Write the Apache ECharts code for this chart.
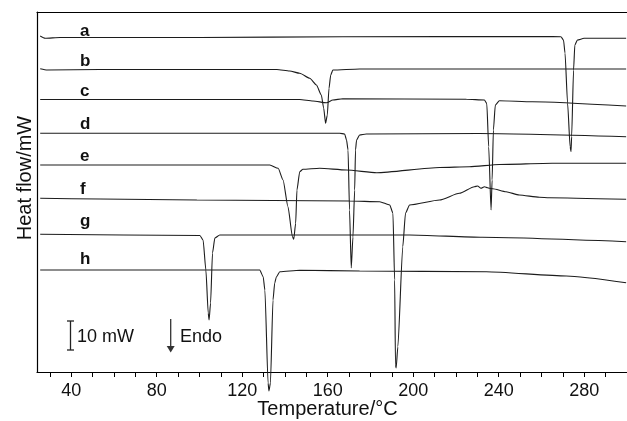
<!DOCTYPE html>
<html>
<head>
<meta charset="utf-8">
<script src="https://cdn.jsdelivr.net/npm/echarts@6.0.0/dist/echarts.min.js"></script>
<style>
  html, body { margin: 0; padding: 0; background: #fff; }
  #main { width: 627px; height: 421px; }
</style>
</head>
<body>
<div id="main"></div>
<script>
// DSC traces a-h: [temperature °C, heat flow (plot units, 29 units = 10 mW)]
const curveA = [[25.5,336],[27.8,333.7],[34.8,334.5],[100.2,334.5],[167,335.2],[261.3,335.5],[269.1,335.3],[270.3,332],[271,319],[272.2,269],[273.4,225.3],[273.8,220.3],[274.1,235.3],[275,302],[275.6,327],[276.8,332],[279.9,333.7],[299.6,333.7]];
const curveB = [[25.5,303.3],[28.8,302],[53.5,302.5],[136.2,302.5],[142.2,301],[146.9,298.7],[151.6,293.7],[154.7,287],[157,277],[158.1,264],[159,248.7],[159.8,257],[160.6,283.7],[161.4,297],[162.4,302],[174.9,303],[299.6,303]];
const curveC = [[25.5,272.5],[142.2,272.5],[146.9,272.5],[153.1,271],[159.4,269.2],[162.4,272],[167,273.3],[224.9,272.7],[233.3,272],[234.4,268.7],[235.3,225.3],[236.4,162],[236.9,192],[237.5,242],[238.4,267],[240.3,271.3],[255.7,270.3],[299.6,266]];
const curveD = [[25.5,238.7],[165.6,238.7],[167.9,238],[168.8,232],[169.5,222],[170.2,162],[171,104],[171.8,135],[172.6,182],[173,222],[173.5,232],[174.9,237],[178,238],[230.9,238.5],[299.6,235.3]];
const curveE = [[25.5,207],[129.6,207],[132.9,207],[136.8,203.7],[139.1,192],[141.4,165.3],[143.5,135.3],[144.1,132.7],[145,148.7],[145.6,182],[146.9,200.3],[148.4,202.7],[156.2,203.7],[168.7,202],[182.9,199.3],[212.3,204.5],[226.3,205.2],[240.3,207.5],[265,208.7],[299.6,208.7]];
const curveF = [[25.5,173.7],[53.5,173],[98.8,172],[170.2,171],[184.3,170.3],[189,167],[190.5,159],[191.3,92],[191.7,7],[192,4],[192.8,25.3],[195.1,125.3],[196.4,159],[198.3,167],[212.3,172],[221.6,178.7],[228.6,185.3],[230.1,186],[231.7,183.7],[233.3,185.3],[234.8,184.3],[235.6,183.7],[237.2,183.3],[243.4,180.3],[249.6,177],[259,174.7],[263.6,174.3],[299.6,172.7]];
const curveG = [[25.5,137.7],[100.2,136.5],[101.7,132],[103,102],[104.1,59],[104.5,52],[105.2,69],[106.1,119],[107.2,134],[109.5,137],[198.3,137],[232.3,134.7],[299.6,130.3]];
const curveH = [[25.5,102],[128.2,102],[129.8,95.3],[130.6,82],[132.1,-11],[132.5,-19],[133.2,-11],[134.4,72],[135.2,89],[136,95.3],[137.6,100.3],[146.9,101.7],[174.9,101],[234.2,100.3],[271.6,96],[299.6,89.3]];

const curveNames = ['a','b','c','d','e','f','g','h'];
const curves = [curveA, curveB, curveC, curveD, curveE, curveF, curveG, curveH];
const tickValues = [30,40,50,60,70,80,90,100,110,120,130,140,150,160,170,180,190,200,210,220,230,240,250,260,270,280,290];
const labelValues = [40,80,120,160,200,240,280];

const FONT = '"Liberation Sans", Arial, Helvetica, sans-serif';
const INK = '#1c1c1c';

// label centre y for each trace name (just above its baseline)
const nameY = [31, 61, 91, 124, 156, 189, 221, 259];

const chart = echarts.init(document.getElementById('main'));

const series = curves.map((c, i) => ({
  name: curveNames[i],
  type: 'line',
  data: c,
  showSymbol: false,
  smooth: 0.2,
  smoothMonotone: 'x',
  clip: false,
  silent: true,
  lineStyle: { color: INK, width: 1.1 }
}));

const graphics = curveNames.map((n, i) => ({
  type: 'text',
  x: 80, y: nameY[i],
  style: { text: n, font: 'bold 17px ' + FONT, fill: '#111', verticalAlign: 'middle' }
}));

graphics.push(
  {
    type: 'text', x: 25, y: 178, rotation: Math.PI / 2,
    style: { text: 'Heat flow/mW', font: '20px ' + FONT, fill: '#111', align: 'center', verticalAlign: 'middle' }
  },
  // 10 mW scale bar
  { type: 'line', shape: { x1: 70.5, y1: 321, x2: 70.5, y2: 350 }, style: { stroke: '#222', lineWidth: 1.3 } },
  { type: 'line', shape: { x1: 67, y1: 321, x2: 74, y2: 321 }, style: { stroke: '#222', lineWidth: 1.3 } },
  { type: 'line', shape: { x1: 67, y1: 350, x2: 74, y2: 350 }, style: { stroke: '#222', lineWidth: 1.3 } },
  { type: 'text', x: 77, y: 337.5, style: { text: '10 mW', font: '18px ' + FONT, fill: '#111', verticalAlign: 'middle' } },
  // Endo arrow
  { type: 'line', shape: { x1: 170.7, y1: 319, x2: 170.7, y2: 349 }, style: { stroke: '#333', lineWidth: 1.3 } },
  { type: 'polygon', shape: { points: [[166.7, 346], [174.7, 346], [170.7, 352.5]] }, style: { fill: '#333' } },
  { type: 'text', x: 180, y: 337.5, style: { text: 'Endo', font: '18px ' + FONT, fill: '#111', verticalAlign: 'middle' } }
);

chart.setOption({
  animation: false,
  backgroundColor: '#fff',
  grid: { left: 37, right: 0, top: 12, bottom: 49, outerBoundsMode: 'none', containLabel: false },
  xAxis: [
    {
      type: 'value', min: 24, max: 300, position: 'bottom',
      name: 'Temperature/°C', nameLocation: 'middle', nameGap: 27, nameMoveOverlap: false,
      nameTextStyle: { fontSize: 20, fontFamily: FONT, color: '#111', padding: [0, 9, 0, 0] },
      axisLine: { onZero: false, lineStyle: { color: '#000', width: 1.2 } },
      axisTick: { customValues: tickValues, length: 5, lineStyle: { color: '#000', width: 1 } },
      axisLabel: { customValues: labelValues, margin: 10, fontSize: 18, fontFamily: FONT, color: '#111' },
      splitLine: { show: false }
    },
    {
      type: 'value', min: 24, max: 300, position: 'top',
      axisLine: { onZero: false, lineStyle: { color: '#000', width: 1.2 } },
      axisTick: { show: false }, axisLabel: { show: false }, splitLine: { show: false }
    }
  ],
  yAxis: {
    type: 'value', min: 0, max: 360,
    axisLine: { show: true, onZero: false, lineStyle: { color: '#000', width: 1.2 } },
    axisTick: { show: false }, axisLabel: { show: false }, splitLine: { show: false }
  },
  series: series,
  graphic: graphics
});
</script>
</body>
</html>
